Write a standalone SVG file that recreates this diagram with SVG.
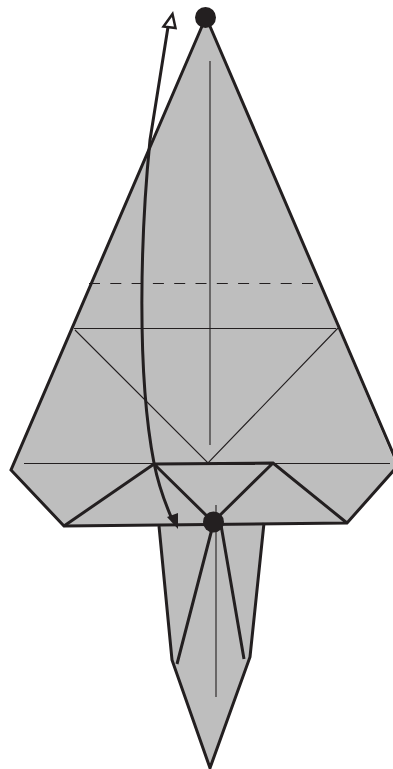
<svg xmlns="http://www.w3.org/2000/svg" width="393" height="769" viewBox="0 0 393 769">
<style>
.fill{fill:#bebebe;stroke:none}
.thick{fill:none;stroke:#231f20;stroke-width:3;stroke-linejoin:miter}
.thin{fill:none;stroke:#231f20;stroke-width:1.1}
.dash{fill:none;stroke:#231f20;stroke-width:1.1;stroke-dasharray:11 10.3}
.dot{fill:#231f20}
</style>
<rect width="393" height="769" fill="#fff"/>
<g id="paper">
<polygon class="fill" points="206,17 393,458 393,471 347,523 264,523 250,657 210,768 172,660 159,526 64,526 11,470"/>
<path class="thick" d="M206,17L11,470L64,526L347,523L394,470M206,17L395,458"/>
<path class="thick" d="M159,526L172,660L210,768L250,657L264,523"/>
<path class="thick" d="M64,526L154,464L273,463L347,523M154,464L213,522L273,463"/>
<path class="thick" d="M213,525L177,664M221,525L244,659"/>
<path class="thin" d="M210,61V445M216,505V697M24,463.500H390M74,328.500H336M75,330L208,463L338,328"/>
<path class="dash" d="M89,283.500H318"/>
</g>
<g id="connectors">
<path class="thick" d="M168,27L150,140C141,230 136,370 154,463C158,483 165,503 172,519"/>
<polygon points="172.500,14 163.500,26.500 175.500,28" fill="#fff" stroke="#231f20" stroke-width="2.500"/>
<polygon class="dot" points="167,517 178,513 178,529"/>
</g>
<g id="dot-top"><circle class="dot" cx="205.500" cy="17.500" r="10.500"/></g>
<g id="dot-bottom"><circle class="dot" cx="213.500" cy="522" r="10.500"/></g>
</svg>
